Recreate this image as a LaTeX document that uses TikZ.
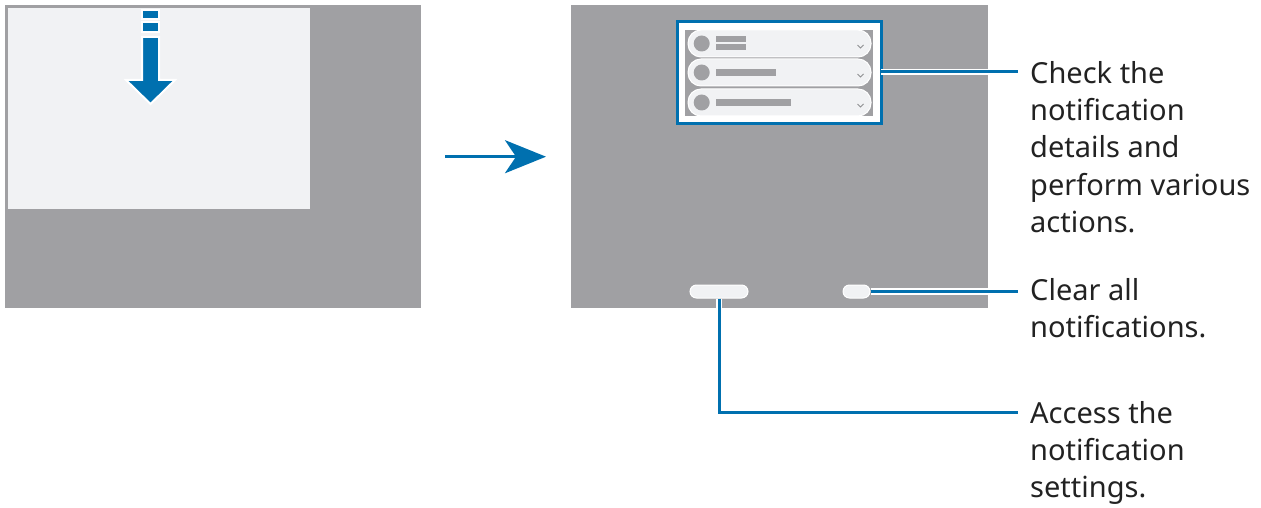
\documentclass[tikz,border=0pt]{standalone}
\usepackage{fontspec}
\setmainfont{Noto Sans}
\usetikzlibrary{arrows.meta,positioning}
\definecolor{scrgray}{RGB}{160,160,163}
\definecolor{scrlight}{RGB}{241,242,244}
\definecolor{callblue}{RGB}{0,112,175}
\definecolor{txtgray}{RGB}{34,34,34}

\begin{document}
\begin{tikzpicture}[x=1pt, y=-1pt,
  screen/.style={fill=scrgray, inner sep=0pt, anchor=north west},
  pill/.style={fill=scrlight, draw=white, line width=1pt, inner sep=0pt, rounded corners=#1},
  pill/.default=13pt,
  bar/.style={fill=scrgray, draw=none},
  dot/.style={circle, fill=scrgray, inner sep=0pt, minimum size=16pt},
  chev/.style={draw=scrgray!90!black, line width=0.8pt},
  lead/.style={callblue, line width=3pt, preaction={draw=white, line width=6.5pt}},
  arrow/.style={-{Stealth[length=41pt, width=33pt, inset=11pt]}, callblue, line width=3pt},
  callout/.style={anchor=north west, align=left, inner sep=0pt, text=txtgray,
    font=\fontsize{29}{37.3}\selectfont}
]
\useasboundingbox (0,0) rectangle (1261,508);

% before: swipe down
\node[screen, minimum width=416pt, minimum height=303pt] (before) at (5,5) {};
\node[fill=scrlight, inner sep=0pt, anchor=north west, minimum width=302pt, minimum height=201pt] (panel) at (8,8) {};
\fill[callblue, draw=white, line width=2pt] (142,10) rectangle (159,19);
\fill[callblue, draw=white, line width=2pt] (142,22) rectangle (159,32);
\filldraw[callblue, draw=white, line width=2pt]
  (142,37) -- (159,37) -- (159,80) -- (175,80) -- (150.5,104) -- (126,80) -- (142,80) -- cycle;

% after: notification panel
\node[screen, minimum width=417pt, minimum height=303pt] (after) at (571,5) {};
\draw[arrow, shorten <=24pt, shorten >=25pt] (before.east) -- (after.west);

\node[inner sep=0pt, minimum width=196pt, minimum height=94pt, draw=white, line width=8pt] (notif) at (779,73) {};
\draw[callblue, line width=3pt] (notif.north west) rectangle (notif.south east);

\node[pill, minimum width=183pt, minimum height=27pt] (row1) at (779.5,43.5) {};
\node[pill, minimum width=183pt, minimum height=27pt] (row2) at (779.5,72.5) {};
\node[pill, minimum width=183pt, minimum height=27pt] (row3) at (779.5,102.5) {};
\foreach \r in {1,2,3} {
  \node[dot, right=6pt of row\r.west] (dot\r) {};
  \draw[chev] ([xshift=-14pt,yshift=-1.5pt]row\r.east) -- ++(3,3) -- ++(3,-3);
}
\fill[bar] (716,36) rectangle (746,42.3);
\fill[bar] (716,44.3) rectangle (746,50.3);
\fill[bar] (716,69) rectangle (776,75.7);
\fill[bar] (716,99) rectangle (790.7,105.7);

\node[pill=6.5pt, minimum width=58pt, minimum height=13pt] (settings) at (719,291.5) {};
\node[pill=6.5pt, minimum width=27pt, minimum height=13pt] (clear) at (856.5,291.5) {};

% callouts
\coordinate (c1) at (1018,72);
\coordinate (c2) at (1018,291.5);
\coordinate (c3) at (1018,412);
\coordinate (bend) at (719,412);
\draw[lead] (notif.east |- c1) -- (c1);
\draw[lead] (clear.east) -- (c2);
\draw[lead] (settings.south) -- (bend) -- (c3);

\node[callout] (details) at (1030,61) {Check the\\notification\\details and\\perform various\\actions.};
\node[callout] (clearall) at (1030,278) {Clear all\\notifications.};
\node[callout] (access) at (1030,401) {Access the\\notification\\settings.};

\end{tikzpicture}
\end{document}
